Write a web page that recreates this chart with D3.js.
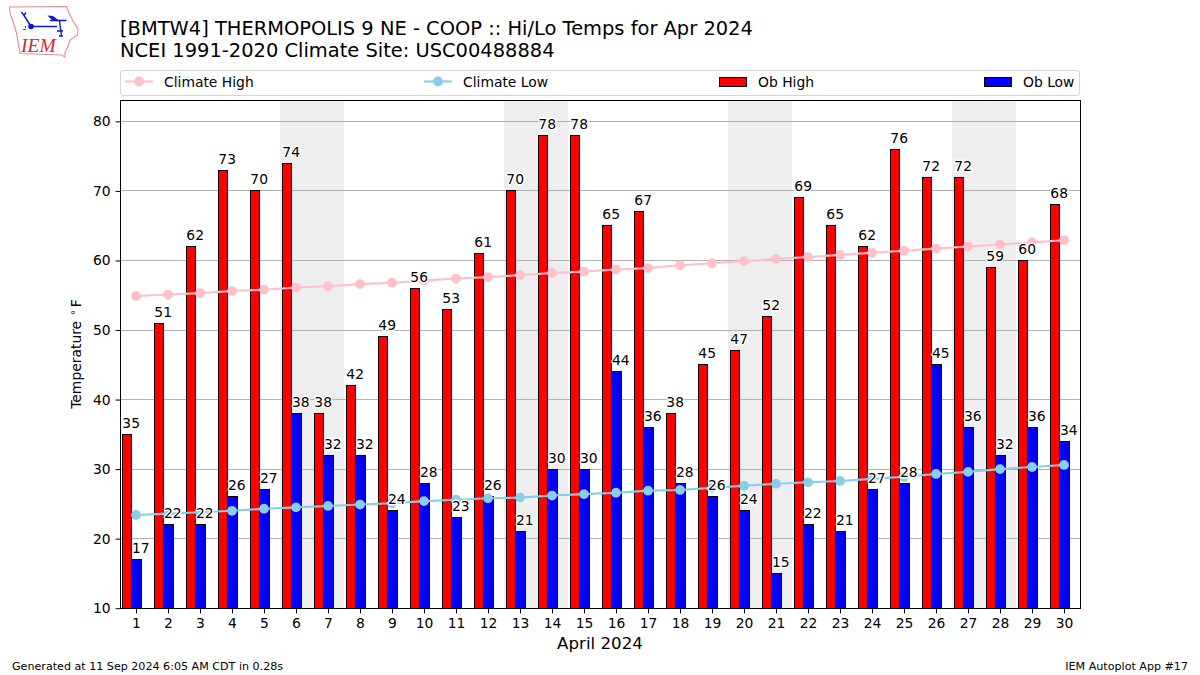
<!DOCTYPE html>
<html><head><meta charset="utf-8">
<script src="https://cdn.jsdelivr.net/npm/d3@7/dist/d3.min.js"></script>
<style>html,body{margin:0;padding:0;background:#fff}svg{display:block}text{font-family:"DejaVu Sans",sans-serif;fill:#000}</style>
</head><body><svg id="c" width="1200" height="675"></svg>
<script>
const days=d3.range(1,31);
const obHigh=[35,51,62,73,70,74,38,42,49,56,53,61,70,78,78,65,67,38,45,47,52,69,65,62,76,72,72,59,60,68];
const obLow=[17,22,22,26,27,38,32,32,24,28,23,26,21,30,30,44,36,28,26,24,15,22,21,27,28,45,36,32,36,34];
const climateHigh=[54.9,55.1,55.3,55.6,55.8,56.1,56.3,56.6,56.8,57.1,57.4,57.6,57.9,58.2,58.4,58.7,58.9,59.3,59.6,59.9,60.2,60.5,60.8,61.1,61.4,61.7,62.0,62.3,62.6,62.9];
const climateLow=[23.4,23.6,23.8,24.0,24.3,24.5,24.7,24.9,25.1,25.4,25.6,25.8,25.9,26.2,26.4,26.6,26.9,27.0,27.3,27.6,27.9,28.1,28.3,28.6,28.9,29.3,29.6,30.0,30.3,30.6];
const weekends=[[5.5,7.5],[12.5,14.5],[19.5,21.5],[26.5,28.5]];
const yTicks=[10,20,30,40,50,60,70,80];
const titleLines=["[BMTW4] THERMOPOLIS 9 NE - COOP :: Hi/Lo Temps for Apr 2024","NCEI 1991-2020 Climate Site: USC00488884"];

const svg=d3.select("#c");
const L=120.5,R=1080.5,T=100.5,B=608.5;
const x=d3.scaleLinear().domain([0.5,30.5]).range([L-0.5,R-0.5]);
const y=d3.scaleLinear().domain([10,83]).range([608.2,100.5]);
const barW=0.3;
const sx=v=>Math.round(x(v))+.5, sy=v=>Math.floor(y(v))+.5;

// logo
const logo=svg.append("g").attr("id","logo");
logo.append("path").attr("fill","none").attr("stroke","#e58a95").attr("stroke-width",1.1)
 .attr("d","M9.5,7 L66.5,6.5 L69,13 L72.5,20 L78,29 L77.5,35 L70,40 L68.5,45 L65,52.5 L65,57 L61.5,55 L20,53.5 L16.5,33 L13.5,23 L10,13 Z");
logo.append("path").attr("fill","none").attr("stroke","#1414d2").attr("stroke-width",1.4)
 .attr("d","M21.5,12 L24,15.5 L26,12.5 M24,15.5 L31,26.5 M31,26.5 L57,26.5 M50,20.5 L66.5,20.5 M59.5,21 L61.5,36 M57,31 L63,31 M59,36 L63,36");
logo.append("circle").attr("cx",31).attr("cy",26.5).attr("r",2.8).attr("fill","#1414d2");
logo.append("path").attr("fill","#1414d2").attr("d","M47.5,15.5 L53,16 L59,20.5 L52,20 Z");
logo.append("path").attr("fill","#3a3ad8").attr("d","M23,29 L26,29 L26,30 L23,30 Z M25,26 L26,26 L26,28 L25,28 Z");
logo.append("text").attr("x",21).attr("y",52).attr("font-size",19.5).attr("font-style","italic")
 .style("font-family","'Liberation Serif',serif").style("fill","#d22838").text("IEM");

// titles
svg.selectAll("text.title").data(titleLines).join("text").attr("class","title")
 .attr("x",120).attr("y",(d,i)=>35+i*22).attr("font-size",19.44).text(d=>d);

// legend
const lg=svg.append("g");
lg.append("rect").attr("x",120.5).attr("y",70.5).attr("width",959).attr("height",25).attr("rx",2.5)
 .attr("fill","#fff").attr("stroke","#d5d5d5");
const legendItems=[["Climate High","line","pink",125],["Climate Low","line","skyblue",424],["Ob High","bar","red",719],["Ob Low","bar","blue",984]];
legendItems.forEach(([t,k,c,lx])=>{
  if(k==="line"){
    lg.append("line").attr("x1",lx).attr("x2",lx+28).attr("y1",81.5).attr("y2",81.5).attr("stroke",c).attr("stroke-width",2.08);
    lg.append("circle").attr("cx",lx+14).attr("cy",81.5).attr("r",4.9).attr("fill",c);
  }else{
    lg.append("rect").attr("x",lx+.5).attr("y",77.5).attr("width",27).attr("height",9).attr("fill",c).attr("stroke","#000");
  }
  lg.append("text").attr("x",lx+39).attr("y",86.5).attr("font-size",13.89).text(t);
});

// plot
const plot=svg.append("g");
plot.append("g").selectAll("rect").data(weekends).join("rect")
 .attr("x",d=>x(d[0])).attr("width",d=>x(d[1])-x(d[0])).attr("y",T).attr("height",B-T).attr("fill","#eeeeee");
plot.append("g").selectAll("line").data(yTicks).join("line")
 .attr("x1",L).attr("x2",R).attr("y1",d=>sy(d)).attr("y2",d=>sy(d)).attr("stroke","#b0b0b0").attr("stroke-width",1);
plot.append("g").selectAll("rect").data(days).join("rect")
 .attr("x",d=>sx(d-0.45)).attr("width",d=>sx(d-0.45+barW)-sx(d-0.45)).attr("y",(d,i)=>sy(obHigh[i])).attr("height",(d,i)=>B-sy(obHigh[i]))
 .attr("fill","red").attr("stroke","#000").attr("stroke-width",1);
plot.append("g").selectAll("rect").data(days).join("rect")
 .attr("x",d=>sx(d-0.15)).attr("width",d=>sx(d-0.15+barW)-sx(d-0.15)).attr("y",(d,i)=>sy(obLow[i])).attr("height",(d,i)=>B-sy(obLow[i]))
 .attr("fill","blue").attr("stroke","#000").attr("stroke-width",1);

[[climateHigh,"pink"],[climateLow,"skyblue"]].forEach(([vals,c])=>{
  const g=plot.append("g");
  g.append("path").attr("fill","none").attr("stroke",c).attr("stroke-width",2.08)
   .attr("d",d3.line().x((d,i)=>x(days[i])).y(d=>y(d))(vals));
  g.selectAll("circle").data(vals).join("circle").attr("cx",(d,i)=>x(days[i])).attr("cy",d=>y(d)).attr("r",4.9).attr("fill",c);
});

// value labels
function labels(vals,dx){
  plot.append("g").selectAll("text").data(vals).join("text")
   .attr("x",(d,i)=>x(days[i]+dx)).attr("y",d=>y(d)-6.5).attr("text-anchor","middle").attr("font-size",13.89)
   .attr("stroke","#fff").attr("stroke-width",2.8).attr("paint-order","stroke").attr("stroke-linejoin","round").text(d=>d);
}
labels(obHigh,-0.15);
labels(obLow,0.15);

// axes frame
plot.append("rect").attr("x",L).attr("y",T).attr("width",R-L).attr("height",B-T).attr("fill","none").attr("stroke","#000").attr("stroke-width",1);
const xAxis=d3.axisBottom(x).tickValues(days).tickFormat(d3.format("d")).tickSize(4.9).tickPadding(4.9);
const yAxis=d3.axisLeft(y).tickValues(yTicks).tickFormat(d3.format("d")).tickSize(4.9).tickPadding(4.9);
[svg.append("g").attr("transform",`translate(0,${B})`).call(xAxis),
 svg.append("g").attr("transform",`translate(${L},0)`).call(yAxis)].forEach(g=>{
  g.select(".domain").remove();
  g.selectAll("text").attr("font-size",13.89).style("font-family","'DejaVu Sans',sans-serif");
  g.selectAll("line").attr("stroke","#000");
});

svg.append("text").attr("x",600).attr("y",649).attr("text-anchor","middle").attr("font-size",16.67).text("April 2024");
const yl=svg.append("text").attr("transform","translate(81,354) rotate(-90)").attr("text-anchor","middle").attr("font-size",13.89);
yl.append("tspan").text("Temperature ");
yl.append("tspan").attr("font-size",10).attr("dy",-5).attr("dx",1).text("∘");
yl.append("tspan").attr("dy",5).attr("dx",2).text("F");
svg.append("text").attr("x",12).attr("y",670).attr("font-size",11.11).text("Generated at 11 Sep 2024 6:05 AM CDT in 0.28s");
svg.append("text").attr("x",1188).attr("y",670).attr("text-anchor","end").attr("font-size",11.11).text("IEM Autoplot App #17");
</script></body></html>
